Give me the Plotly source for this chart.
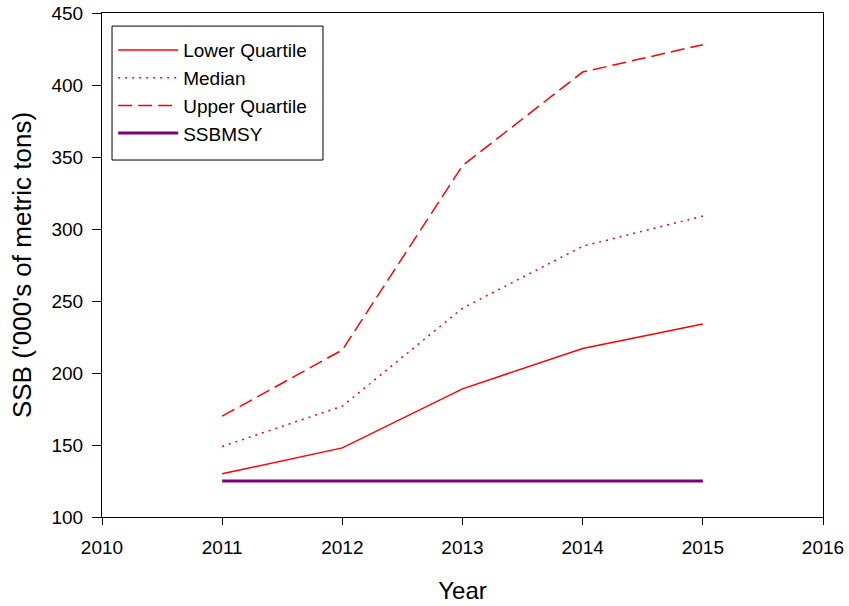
import plotly.graph_objects as go

years = [2011, 2012, 2013, 2014, 2015]
lower_quartile = [130, 148, 189, 217, 234]
median = [149, 177, 245, 288, 309]
upper_quartile = [170, 216, 344, 409, 428]
ssbmsy = [125, 125, 125, 125, 125]

fig = go.Figure()
fig.add_trace(go.Scatter(x=years, y=lower_quartile, mode="lines", name="Lower Quartile",
                         line=dict(color="#ff0000", width=1.5)))
fig.add_trace(go.Scatter(x=years, y=median, mode="lines", name="Median",
                         line=dict(color="#ff0000", width=1.5, dash="2px,5px")))
fig.add_trace(go.Scatter(x=years, y=upper_quartile, mode="lines", name="Upper Quartile",
                         line=dict(color="#ff0000", width=1.5, dash="14px,6px")))
fig.add_trace(go.Scatter(x=years, y=ssbmsy, mode="lines", name="SSBMSY",
                         line=dict(color="#800080", width=3)))

axis_common = dict(showgrid=False, zeroline=False, showline=True, linecolor="black",
                   linewidth=1, mirror=True, ticks="outside", tickcolor="black",
                   automargin=False,
                   tickfont=dict(family="Liberation Sans, Arial", size=19, color="black"))

fig.update_layout(
    width=849, height=606,
    margin=dict(l=102, r=26, t=13, b=89),
    paper_bgcolor="white", plot_bgcolor="white",
    font=dict(family="Liberation Sans, Arial", color="black"),
    xaxis=dict(range=[2010, 2016], tickmode="linear", tick0=2010, dtick=1,
               ticklen=7, ticklabelstandoff=6,
               title=dict(text="Year", font=dict(size=24), standoff=25), **axis_common),
    yaxis=dict(range=[100, 450], tickmode="linear", tick0=100, dtick=50,
               ticklen=9, ticklabelstandoff=5,
               title=dict(text="SSB ('000's of metric tons)", font=dict(size=26), standoff=12),
               **axis_common),
    legend=dict(x=0.0155, y=0.964, xanchor="left", yanchor="top",
                bgcolor="rgba(0,0,0,0)", borderwidth=0,
                font=dict(family="Liberation Sans, Arial", size=19, color="black"),
                tracegroupgap=0, itemwidth=60),
    shapes=[dict(type="rect", xref="paper", yref="paper",
                 x0=0.0139, x1=0.3065, y0=0.7083, y1=0.974,
                 line=dict(color="black", width=1), fillcolor="white", layer="above")],
    showlegend=True,
)

fig.write_html("out.html")
